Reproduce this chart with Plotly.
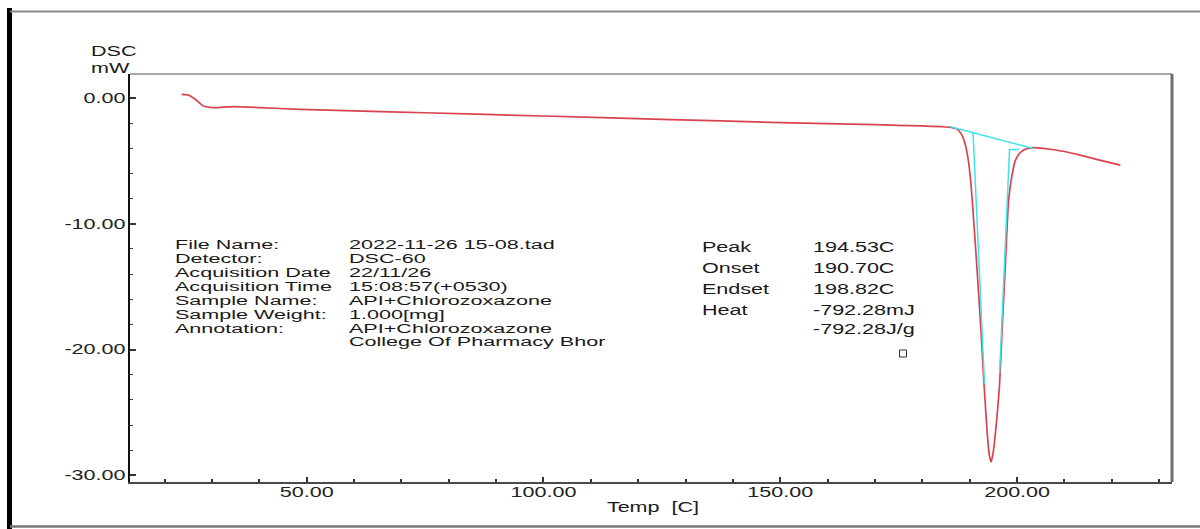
import plotly.graph_objects as go

# ---------------- data ----------------
temp_c = [23.6, 25.0, 26.4, 28.2, 30.3, 34.5, 40.0, 48.6, 60.0, 75.0, 100.0, 125.0,
          150.0, 170.0, 180.0, 184.0, 186.0, 187.2, 188.2, 188.9, 189.5, 190.1,
          190.6, 191.5, 192.4, 193.0, 193.7, 194.1, 194.5, 194.9, 195.4, 196.3,
          196.8, 197.5, 198.2, 198.9, 199.6, 200.4, 201.5, 203.2, 205.0, 210.0,
          213.3, 217.0, 221.8]
dsc_mw = [0.29, 0.24, -0.08, -0.64, -0.77, -0.69, -0.76, -0.90, -1.02, -1.17, -1.43, -1.69,
          -1.95, -2.12, -2.22, -2.28, -2.33, -2.45, -2.85, -3.5, -4.5, -6.2,
          -8.5, -13.4, -18.7, -22.7, -26.7, -28.3, -28.94, -28.3, -26.7, -22.7,
          -18.7, -13.4, -8.1, -6.2, -5.0, -4.45, -4.12, -3.95, -3.98, -4.25,
          -4.54, -4.9, -5.33]

# analysis lines (cyan)
base_t = [185.9, 203.3]
base_v = [-2.28, -4.0]
onset_t = [190.7, 193.1]
onset_v = [-2.78, -22.7]
endset_t = [200.3, 198.4, 196.3]
endset_v = [-4.1, -4.1, -21.9]

x_ticks = [50, 100, 150, 200]
y_ticks = [0, -10, -20, -30]
x_range = [12.7, 232.7]
y_range = [-30.53, 1.91]

info_labels = ["File Name:", "Detector:", "Acquisition Date", "Acquisition Time",
               "Sample Name:", "Sample Weight:", "Annotation:", ""]
info_values = ["2022-11-26 15-08.tad", "DSC-60", "22/11/26", "15:08:57(+0530)",
               "API+Chlorozoxazone", "1.000[mg]", "API+Chlorozoxazone",
               "College Of Pharmacy Bhor"]
res_labels = ["Peak", "Onset", "Endset", "Heat", ""]
res_values = ["194.53C", "190.70C", "198.82C", "-792.28mJ", "-792.28J/g"]

# ---------------- layout helpers ----------------
W, H = 1200, 529
L, R, T, B = 130, 1172, 74, 482


def px(xp):
    return (xp - L) / (R - L)


def py(yp):
    return (B - yp) / (B - T)


FONT = "Liberation Sans, Arial, sans-serif"
TXT = "#1a1a1a"

fig = go.Figure()
fig.add_trace(go.Scatter(x=temp_c, y=dsc_mw, mode="lines",
                         line=dict(color="#d9424f", width=1.7, shape="spline", smoothing=0.5),
                         hoverinfo="skip"))
for xs, ys in [(base_t, base_v), (onset_t, onset_v), (endset_t, endset_v)]:
    fig.add_trace(go.Scatter(x=xs, y=ys, mode="lines",
                             line=dict(color="#3fe3ea", width=1.5), hoverinfo="skip"))

annotations = []


def add_text(xp, yp, text, size=14, anchor="left"):
    annotations.append(dict(x=px(xp), y=py(yp), xref="paper", yref="paper", text=text,
                            xanchor=anchor, yanchor="middle", showarrow=False, align=anchor,
                            borderpad=0,
                            font=dict(family=FONT, size=size, color=TXT)))


for i, (lab, val) in enumerate(zip(info_labels, info_values)):
    yy = 245.5 + 13.85 * i
    if lab:
        add_text(174, yy, lab, size=12.3)
    add_text(347.5, yy, val, size=12.3)
res_y = [246.7, 268.3, 289.3, 310.0, 329.3]
for lab, val, yy in zip(res_labels, res_values, res_y):
    if lab:
        add_text(701, yy, lab)
    add_text(811.5, yy, val)
add_text(90, 51.5, "DSC")
add_text(90, 67.5, "mW")
add_text(653, 507, "Temp  [C]", anchor="center")

shapes = [
    # plot frame top and right
    dict(type="line", xref="paper", yref="paper", x0=0, x1=1, y0=1, y1=1,
         line=dict(color="#8a8a8a", width=1.5)),
    dict(type="line", xref="paper", yref="paper", x0=1, x1=1, y0=0, y1=1,
         line=dict(color="#6e6e6e", width=3)),
    # outer page border
    dict(type="line", xref="paper", yref="paper", x0=px(9.5), x1=px(9.5), y0=py(8), y1=py(529),
         line=dict(color="#000000", width=5)),
    dict(type="line", xref="paper", yref="paper", x0=px(10), x1=px(1200), y0=py(11.5), y1=py(11.5),
         line=dict(color="#8a8a8a", width=2)),
    dict(type="line", xref="paper", yref="paper", x0=px(10), x1=px(1200), y0=py(526.5), y1=py(526.5),
         line=dict(color="#777777", width=2.5)),
    # small square marker
    dict(type="rect", xref="paper", yref="paper", x0=px(899.5), x1=px(906.5),
         y0=py(357), y1=py(350), line=dict(color="#333333", width=1)),
]

fig.update_layout(
    width=W, height=H,
    margin=dict(l=L, r=W - R, t=T, b=H - B, pad=0),
    paper_bgcolor="white", plot_bgcolor="white",
    showlegend=False,
    annotations=annotations,
    shapes=shapes,
    xaxis=dict(range=x_range, showgrid=False, zeroline=False,
               showline=True, linecolor="#4a4a4a", linewidth=1.5,
               tickvals=x_ticks, ticktext=["%.2f" % v for v in x_ticks],
               ticks="inside", ticklen=5, tickwidth=1.5, tickcolor="#333",
               ticklabelstandoff=-4,
               minor=dict(dtick=10, tick0=0, ticks="inside", ticklen=3, tickwidth=1.5,
                          tickcolor="#333"),
               tickfont=dict(family=FONT, size=14, color="#222")),
    yaxis=dict(range=y_range, showgrid=False, zeroline=False,
               showline=True, linecolor="#111", linewidth=1.5,
               tickvals=y_ticks, ticktext=["%.2f" % v for v in y_ticks],
               ticks="inside", ticklen=6, tickwidth=1.5, tickcolor="#333",
               ticklabelstandoff=0,
               minor=dict(dtick=2, tick0=0, ticks="inside", ticklen=3, tickwidth=1,
                          tickcolor="#444"),
               tickfont=dict(family=FONT, size=14, color="#222")),
)

# the reference text is horizontally stretched: widen every label about its anchor
post = """
document.querySelectorAll('.xtick text, .ytick text, .annotation-text').forEach(function(t){
  if (t.getAttribute('data-st')) return;
  var fs = parseFloat(t.style.fontSize) || 14;
  var S = 21.56 / fs;
  var x = parseFloat(t.getAttribute('x')) || 0;
  var tr = t.getAttribute('transform') || '';
  t.setAttribute('transform', tr + ' translate(' + x + ',0) scale(' + S + ',1) translate(' + (-x) + ',0)');
  t.setAttribute('data-st', '1');
});
"""

fig.write_html("out.html", post_script=post, config=dict(displayModeBar=False))
